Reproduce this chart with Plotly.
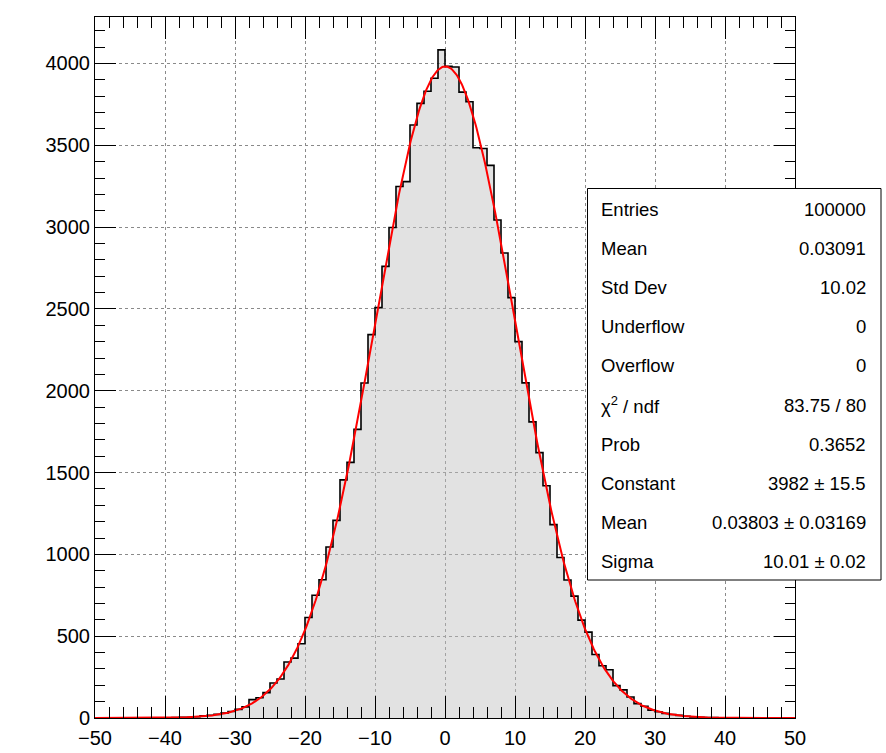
import numpy as np
import plotly.graph_objects as go

# ---------------- data ----------------
bin_low = -50
bin_high = 50
n_bins = 100
counts = [
    # -50 .. -41
    0, 0, 0, 0, 0, 0, 0, 1, 0, 1,
    # -40 .. -31
    1, 2, 4, 5, 8, 13, 17, 22, 30, 40,
    # -30 .. -21
    53, 68, 112, 124, 155, 214, 238, 342, 366, 454,
    # -20 .. -11
    614, 750, 845, 1045, 1208, 1455, 1562, 1764, 2047, 2343,
    # -10 .. -1
    2508, 2760, 2998, 3248, 3278, 3624, 3756, 3830, 3910, 4083,
    # 0 .. 9
    3982, 3978, 3825, 3766, 3485, 3480, 3377, 3043, 2842, 2569,
    # 10 .. 19
    2300, 2048, 1810, 1622, 1419, 1182, 981, 843, 745, 598,
    # 20 .. 29
    525, 388, 319, 295, 198, 172, 128, 88, 72, 48,
    # 30 .. 39
    38, 28, 21, 16, 11, 7, 5, 3, 3, 1,
    # 40 .. 49
    1, 1, 0, 0, 1, 0, 0, 0, 0, 0,
]

fit_constant = 3982.0
fit_mean = 0.03803
fit_sigma = 10.01

stat_labels = ["Entries", "Mean", "Std Dev", "Underflow", "Overflow",
               "χ<sup>2</sup> / ndf", "Prob", "Constant", "Mean", "Sigma"]
stat_values = ["100000", "0.03091", "10.02", "0", "0",
               "83.75 / 80", "0.3652", "3982 ± 15.5",
               "0.03803 ± 0.03169", "10.01 ± 0.02"]

x_ticks = list(range(-50, 51, 10))
y_ticks = list(range(0, 4001, 500))

# ---------------- figure ----------------
edges = np.linspace(bin_low, bin_high, n_bins + 1)
step_y = list(counts) + [counts[-1]]

fig = go.Figure()
fig.add_trace(go.Scatter(
    x=edges, y=step_y, mode="lines", line_shape="hv",
    line=dict(color="black", width=1.6),
    fill="tozeroy", fillcolor="rgba(190,190,190,0.45)",
    hoverinfo="skip", showlegend=False))

xf = np.linspace(bin_low, bin_high, 801)
yf = fit_constant * np.exp(-0.5 * ((xf - fit_mean) / fit_sigma) ** 2)
fig.add_trace(go.Scatter(x=xf, y=yf, mode="lines",
                         line=dict(color="#ff0000", width=2),
                         hoverinfo="skip", showlegend=False))

W, H = 886, 753
ML, MR, MT, MB = 95, 91, 17, 35
pw = W - ML - MR
ph = H - MT - MB

def px(xpix):
    return (xpix - ML) / pw

def py(ypix):
    return (H - MB - ypix) / ph

font_family = "Liberation Sans, Arial, Helvetica, sans-serif"

fig.update_layout(
    width=W, height=H, autosize=False,
    margin=dict(l=ML, r=MR, t=MT, b=MB, pad=0, autoexpand=False),
    paper_bgcolor="white", plot_bgcolor="white",
    font=dict(family=font_family, color="black"),
    xaxis=dict(range=[bin_low, bin_high], tickvals=x_ticks, automargin=False,
               ticks="inside", ticklen=22, tickwidth=1, tickcolor="black",
               minor=dict(dtick=2, ticklen=11, tickwidth=1, tickcolor="black",
                          ticks="inside", showgrid=False),
               showline=True, linecolor="black", linewidth=1, mirror="ticks",
               showgrid=True, gridcolor="#8a8a8a", griddash="dot", gridwidth=1,
               zeroline=False, ticklabelstandoff=2,
               tickfont=dict(size=20, family=font_family)),
    yaxis=dict(range=[0, 4284], tickvals=y_ticks, automargin=False,
               ticks="inside", ticklen=21, tickwidth=1, tickcolor="black",
               minor=dict(dtick=100, ticklen=10, tickwidth=1, tickcolor="black",
                          ticks="inside", showgrid=False),
               showline=True, linecolor="black", linewidth=1, mirror="ticks",
               showgrid=True, gridcolor="#8a8a8a", griddash="dot", gridwidth=1,
               zeroline=False,
               tickfont=dict(size=20, family=font_family)),
)

# stats box
fig.add_shape(type="rect", xref="paper", yref="paper",
              x0=px(587.5), x1=px(881), y0=py(580), y1=py(188.5),
              line=dict(color="black", width=1), fillcolor="white",
              layer="above")

row_y0 = 209.5
row_dy = 39.1
for i, (lab, val) in enumerate(zip(stat_labels, stat_values)):
    yy = py(row_y0 + i * row_dy)
    fig.add_annotation(x=px(598.5), y=yy, xref="paper", yref="paper",
                       text=lab, showarrow=False, xanchor="left",
                       yanchor="middle",
                       font=dict(size=18.5, family=font_family, color="black"))
    fig.add_annotation(x=px(868), y=yy, xref="paper", yref="paper",
                       text=val, showarrow=False, xanchor="right",
                       yanchor="middle",
                       font=dict(size=18.5, family=font_family, color="black"))

fig.write_html("out.html")
